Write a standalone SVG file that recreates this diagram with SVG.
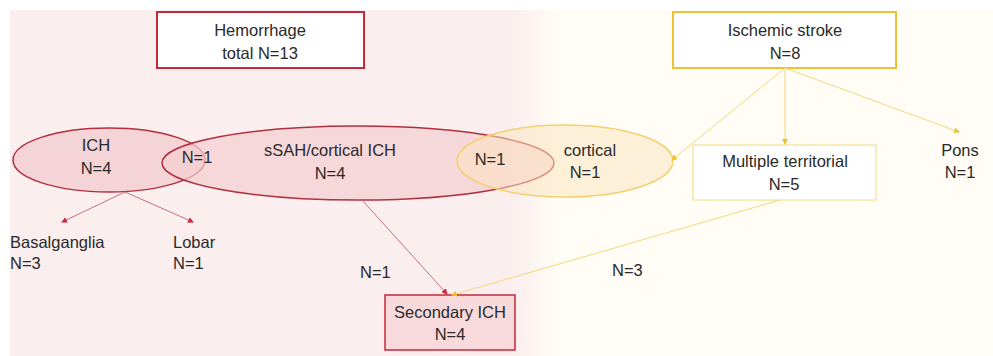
<svg xmlns="http://www.w3.org/2000/svg" width="993" height="356" viewBox="0 0 993 356">
<defs>
<linearGradient id="bg" x1="0" y1="0" x2="1" y2="0">
<stop offset="0" stop-color="#fbeeee"/>
<stop offset="0.51" stop-color="#fbeeee"/>
<stop offset="0.56" stop-color="#fffdf6"/>
<stop offset="1" stop-color="#fffdf6"/>
</linearGradient>
<marker id="ar" markerWidth="6" markerHeight="6" refX="5" refY="3" orient="auto" markerUnits="userSpaceOnUse"><path d="M0,0 L6,3 L0,6 Z" fill="#c8283a"/></marker>
<marker id="ay" markerWidth="6" markerHeight="6" refX="5" refY="3" orient="auto" markerUnits="userSpaceOnUse"><path d="M0,0 L6,3 L0,6 Z" fill="#efc030"/></marker>
</defs>
<style>
text{font-family:"Liberation Sans",Arial,sans-serif;font-size:16.5px;fill:#2a2a2a;}
.c{text-anchor:middle;}
.rl{stroke:#c87080;stroke-width:1;fill:none;}
.yl{stroke:#f2d878;stroke-width:1;fill:none;}
</style>
<rect x="0" y="0" width="993" height="356" fill="#ffffff"/>
<rect x="10" y="10" width="983" height="346" fill="url(#bg)"/>
<g id="ich">
<ellipse cx="109" cy="160" rx="96" ry="32" fill="#f3cfd2" fill-opacity="0.85" stroke="#b03040" stroke-width="1.5"/>
</g>
<g id="ssah">
<ellipse cx="358" cy="163" rx="196" ry="37" fill="#f3cfd2" fill-opacity="0.7" stroke="#b03040" stroke-width="1.5"/>
</g>
<g id="cortical">
<ellipse cx="565" cy="161" rx="108" ry="36" fill="#fbe6c0" fill-opacity="0.55" stroke="#f2d070" stroke-width="1.5"/>
</g>
<g id="ich-text"><text class="c" x="96" y="151">ICH</text><text class="c" x="96" y="174">N=4</text></g>
<g id="overlap1"><text class="c" x="197" y="163">N=1</text></g>
<g id="ssah-text"><text class="c" x="330" y="156">sSAH/cortical ICH</text><text class="c" x="330" y="179">N=4</text></g>
<g id="overlap2"><text class="c" x="490" y="165">N=1</text></g>
<g id="cortical-text"><text class="c" x="590" y="156">cortical</text><text class="c" x="585" y="178">N=1</text></g>
<g id="hemorrhage">
<rect x="157" y="12" width="207" height="56" fill="#ffffff" stroke="#c8283a" stroke-width="2"/>
<text class="c" x="260" y="36">Hemorrhage</text><text class="c" x="260" y="59">total N=13</text>
</g>
<g id="ischemic">
<rect x="673" y="12" width="223" height="56" fill="#ffffff" stroke="#f0c030" stroke-width="2"/>
<text class="c" x="785" y="36">Ischemic stroke</text><text class="c" x="785" y="59">N=8</text>
</g>
<g id="multiple">
<rect x="693" y="145" width="183" height="55" fill="#ffffff" stroke="#f2dc80" stroke-width="1"/>
<text class="c" x="785" y="167">Multiple territorial</text><text class="c" x="784" y="190">N=5</text>
</g>
<g id="pons"><text class="c" x="960" y="156">Pons</text><text class="c" x="960" y="178">N=1</text></g>
<g id="basal"><text x="10" y="248">Basalganglia</text><text x="10" y="269">N=3</text></g>
<g id="lobar"><text x="173" y="248">Lobar</text><text x="173" y="269">N=1</text></g>
<g id="secondary">
<rect x="385" y="295" width="130" height="55" fill="#f8dadc" stroke="#c8283a" stroke-width="1.5"/>
<text class="c" x="450" y="318">Secondary ICH</text><text class="c" x="450" y="340">N=4</text>
</g>
<g id="connectors">
<line class="rl" x1="125" y1="192" x2="62" y2="222" marker-end="url(#ar)"/>
<line class="rl" x1="125" y1="192" x2="193" y2="222" marker-end="url(#ar)"/>
<line class="rl" x1="362" y1="200" x2="447" y2="294" marker-end="url(#ar)"/>
<line class="yl" x1="780" y1="200" x2="452" y2="295" marker-end="url(#ay)"/>
<line class="yl" x1="785" y1="68" x2="672" y2="160" marker-end="url(#ay)"/>
<line class="yl" x1="785" y1="68" x2="785" y2="144" marker-end="url(#ay)"/>
<line class="yl" x1="785" y1="68" x2="959" y2="132" marker-end="url(#ay)"/>
<text x="360" y="278">N=1</text>
<text x="612" y="276">N=3</text>
</g>
</svg>
